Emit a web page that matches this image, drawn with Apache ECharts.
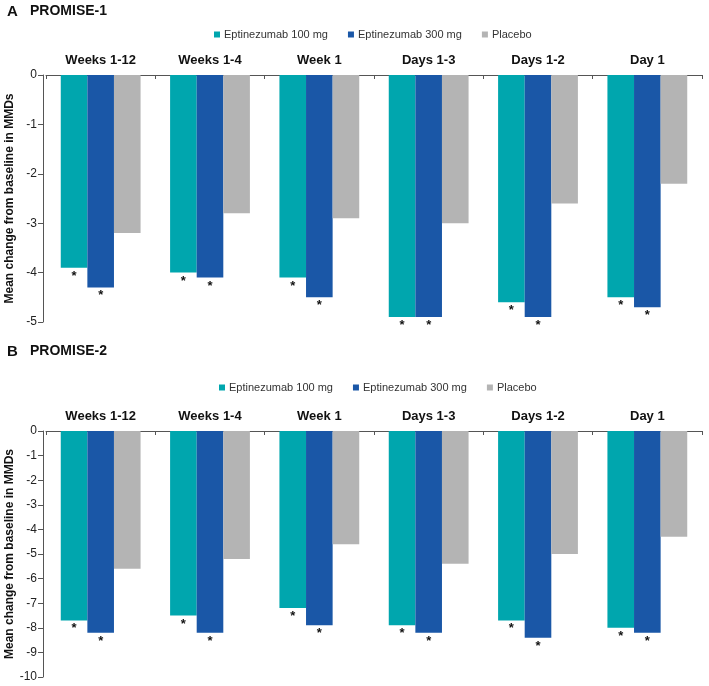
<!DOCTYPE html>
<html>
<head>
<meta charset="utf-8">
<script src="https://cdn.jsdelivr.net/npm/echarts@6/dist/echarts.min.js"></script>
<style>
html,body{margin:0;padding:0;background:#fff;}
#chart{width:709px;height:686px;}
</style>
</head>
<body>
<div id="chart"></div>
<script>
const categories = ['Weeks 1-12', 'Weeks 1-4', 'Week 1', 'Days 1-3', 'Days 1-2', 'Day 1'];
const seriesNames = ['Eptinezumab 100 mg', 'Eptinezumab 300 mg', 'Placebo'];
// PROMISE-1
const p1Epti100 = [-3.9, -4.0, -4.1, -4.9, -4.6, -4.5];
const p1Epti300 = [-4.3, -4.1, -4.5, -4.9, -4.9, -4.7];
const p1Placebo = [-3.2, -2.8, -2.9, -3.0, -2.6, -2.2];
// PROMISE-2
const p2Epti100 = [-7.7, -7.5, -7.2, -7.9, -7.7, -8.0];
const p2Epti300 = [-8.2, -8.2, -7.9, -8.2, -8.4, -8.2];
const p2Placebo = [-5.6, -5.2, -4.6, -5.4, -5.0, -4.3];
const yRange1 = { min: -5, max: 0 };
const yRange2 = { min: -10, max: 0 };
const panelTitles = [['A', 'PROMISE-1'], ['B', 'PROMISE-2']];
const yName = 'Mean change from baseline in MMDs';

const colors = ['#00a6ae', '#1a57a7', '#b4b4b4'];
const font = 'Liberation Sans, Arial, sans-serif';
const axisColor = '#555';

const chart = echarts.init(document.getElementById('chart'));

function xAx(gi) {
  return {
    type: 'category', gridIndex: gi, data: categories, position: 'top',
    axisLine: { onZero: false, lineStyle: { color: axisColor, width: 1 } },
    axisTick: { show: true, inside: true, length: 4, lineStyle: { color: axisColor } },
    axisLabel: { fontFamily: font, fontSize: 13, fontWeight: 'bold', color: '#111', margin: 8 },
    splitLine: { show: false }
  };
}
function yAx(gi, r) {
  return {
    type: 'value', gridIndex: gi, min: r.min, max: r.max, interval: 1, offset: 3,
    name: yName, nameLocation: 'middle', nameRotate: 90, nameGap: 27, nameMoveOverlap: false,
    nameTextStyle: { fontFamily: font, fontSize: 12, fontWeight: 'bold', color: '#111' },
    axisLine: { show: true, lineStyle: { color: axisColor, width: 1 } },
    axisTick: { show: true, length: 5, lineStyle: { color: axisColor } },
    axisLabel: { fontFamily: font, fontSize: 12, color: '#222', margin: 6 },
    splitLine: { show: false }
  };
}
const star = { show: true, position: 'bottom', formatter: '*', fontFamily: font, fontSize: 13, fontWeight: 'bold', color: '#111', distance: 2 };
function bar(name, gi, data, color, withStar) {
  return {
    type: 'bar', name: name, xAxisIndex: gi, yAxisIndex: gi, data: data,
    barGap: '0%', barCategoryGap: '27%',
    itemStyle: { color: color },
    label: withStar ? star : { show: false },
    emphasis: { disabled: true }
  };
}
function legend(top, left) {
  return {
    top: top, left: left, data: seriesNames, icon: 'rect', itemWidth: 6, itemHeight: 6, itemGap: 20,
    textStyle: { fontFamily: font, fontSize: 11, color: '#333', padding: [0, 0, 0, -1] }, selectedMode: false
  };
}
function titleOf(i, top) {
  return {
    left: 7, top: top, padding: 0,
    text: '{a|' + panelTitles[i][0] + '}{p|' + panelTitles[i][1] + '}',
    textStyle: { rich: {
      a: { fontFamily: font, fontSize: 15, fontWeight: 'bold', color: '#111', width: 23 },
      p: { fontFamily: font, fontSize: 14, color: '#111' }
    } }
  };
}

chart.setOption({
  animation: false,
  color: colors,
  title: [titleOf(0, 4), titleOf(1, 344)],
  legend: [legend(24, 209), legend(377, 214)],
  grid: [
    { left: 46, right: 7, top: 75, height: 247, outerBoundsMode: 'none', containLabel: false },
    { left: 46, right: 7, top: 431, height: 246, outerBoundsMode: 'none', containLabel: false }
  ],
  xAxis: [xAx(0), xAx(1)],
  yAxis: [yAx(0, yRange1), yAx(1, yRange2)],
  series: [
    bar(seriesNames[0], 0, p1Epti100, colors[0], true),
    bar(seriesNames[1], 0, p1Epti300, colors[1], true),
    bar(seriesNames[2], 0, p1Placebo, colors[2], false),
    bar(seriesNames[0], 1, p2Epti100, colors[0], true),
    bar(seriesNames[1], 1, p2Epti300, colors[1], true),
    bar(seriesNames[2], 1, p2Placebo, colors[2], false)
  ]
});
</script>
</body>
</html>
